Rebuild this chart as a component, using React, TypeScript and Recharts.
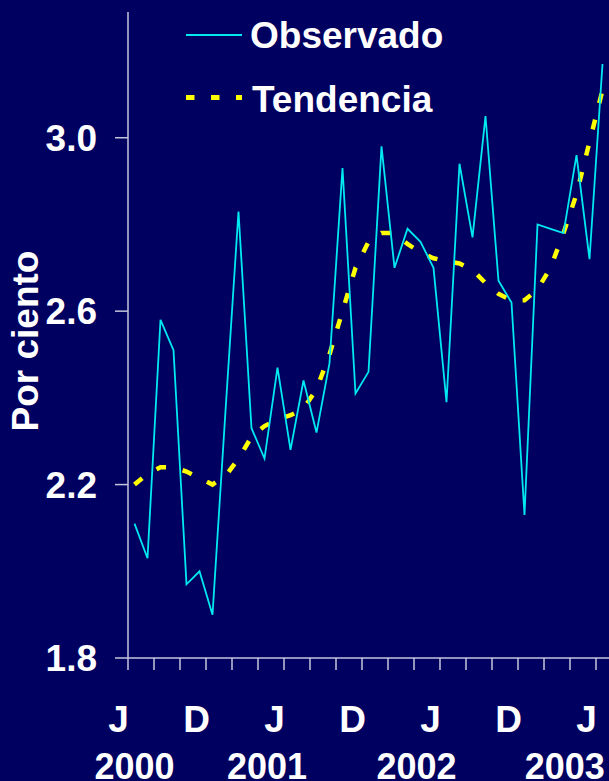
import { LineChart, Line, XAxis, YAxis, Legend } from 'recharts';

const FONT = '"Liberation Sans", Arial, sans-serif';
const BG = '#000060';
const AXIS = '#c4c4dc';
const CYAN = '#00e8f0';
const YELLOW = '#ffff00';

// junio 2000 .. junio 2003, mensual
const observado = [
  2.11, 2.03, 2.58, 2.51, 1.97, 2.0, 1.9, 2.37, 2.83, 2.33, 2.26, 2.47,
  2.28, 2.44, 2.32, 2.48, 2.93, 2.41, 2.46, 2.98, 2.7, 2.79, 2.76, 2.7,
  2.39, 2.94, 2.77, 3.05, 2.67, 2.62, 2.13, 2.8, 2.79, 2.78, 2.96, 2.72,
  3.17,
];
const tendencia = [
  2.2, 2.225, 2.24, 2.24, 2.23, 2.215, 2.2, 2.22, 2.26, 2.31, 2.335, 2.35,
  2.36, 2.375, 2.42, 2.5, 2.6, 2.7, 2.76, 2.78, 2.78, 2.755, 2.735, 2.722,
  2.715, 2.71, 2.695, 2.665, 2.64, 2.625, 2.625, 2.65, 2.7, 2.78, 2.87, 2.99,
  3.11,
];

const yTicks = [1.8, 2.2, 2.6, 3.0];
const xTicks = [0, 2, 4, 6, 8, 10, 12, 14, 16, 18, 20, 22, 24, 26, 28, 30, 32, 34, 36];
const mesLetras = ['J', 'D', 'J', 'D', 'J', 'D', 'J'];
const mesIdx = [0, 6, 12, 18, 24, 30, 36];
const anios = ['2000', '2001', '2002', '2003'];
const anioPos = [0.5, 10.7, 22.2, 33.6];

const data = observado.map((v, i) => ({ x: i + 0.5, observado: v, tendencia: tendencia[i] }));

const txt = { fill: '#fff', fontFamily: FONT, fontWeight: 'bold' as const, fontSize: 37 };

function NoTick() {
  return <g />;
}

function MesTick({ x, y, payload }: any) {
  const k = mesIdx.findIndex(m => m + 0.5 === payload.value);
  return (
    <text x={x - 16} y={y + 44} textAnchor="middle" {...txt}>
      {mesLetras[k]}
    </text>
  );
}

function AnioTick({ x, y, payload }: any) {
  const k = anioPos.indexOf(payload.value);
  return (
    <text x={x} y={y + 44.5} textAnchor="middle" {...txt} fontSize={36}>
      {anios[k]}
    </text>
  );
}

function YLabel({ viewBox }: any) {
  const cx = viewBox.x + 25;
  const cy = viewBox.y + viewBox.height / 2 + 6;
  return (
    <text x={cx} y={cy} transform={`rotate(-90 ${cx} ${cy})`} textAnchor="middle" dominantBaseline="central" {...txt}>
      Por ciento
    </text>
  );
}

function Leyenda() {
  return (
    <svg width={300} height={125}>
      <line x1={6} x2={62} y1={35} y2={35} stroke={CYAN} strokeWidth={2} />
      <text x={70} y={48} {...txt}>Observado</text>
      <line x1={6} x2={62} y1={97.5} y2={97.5} stroke={YELLOW} strokeWidth={5} strokeDasharray="8.5 16.5" />
      <text x={72} y={112} {...txt}>Tendencia</text>
    </svg>
  );
}

export default function App() {
  return (
    <div style={{ position: 'absolute', left: 0, top: 0, width: 609, height: 781, background: BG }}>
      <LineChart width={609} height={781} data={data} margin={{ top: 12, right: 0, bottom: 0, left: 0 }}>
        <XAxis
          xAxisId="c"
          type="number"
          dataKey="x"
          domain={[0, 37]}
          allowDataOverflow
          ticks={anioPos}
          tick={<AnioTick />}
          tickSize={0}
          tickMargin={0}
          axisLine={false}
          tickLine={false}
          height={47}
          interval={0}
        />
        <XAxis
          xAxisId="b"
          type="number"
          dataKey="x"
          domain={[0, 37]}
          allowDataOverflow
          ticks={mesIdx.map(m => m + 0.5)}
          tick={<MesTick />}
          tickSize={0}
          tickMargin={0}
          axisLine={false}
          tickLine={false}
          height={46}
          interval={0}
        />
        <XAxis
          xAxisId="a"
          type="number"
          dataKey="x"
          domain={[0, 37]}
          allowDataOverflow
          ticks={xTicks}
          tick={<NoTick />}
          tickSize={12}
          height={30}
          interval={0}
          axisLine={{ stroke: AXIS, strokeWidth: 1.5 }}
          tickLine={{ stroke: AXIS, strokeWidth: 1.5 }}
        />
        <YAxis
          type="number"
          domain={[1.8, 3.29]}
          allowDataOverflow
          ticks={yTicks}
          width={128}
          tickSize={13}
          tickMargin={18}
          tickFormatter={(v: number) => v.toFixed(1)}
          tick={txt}
          axisLine={{ stroke: AXIS, strokeWidth: 1.5 }}
          tickLine={{ stroke: AXIS, strokeWidth: 1.5 }}
          label={<YLabel />}
        />
        <Legend
          layout="vertical"
          align="center"
          verticalAlign="middle"
          wrapperStyle={{ left: 180, top: 0, width: 300, height: 125 }}
          content={() => <Leyenda />}
        />
        <Line
          xAxisId="a"
          type="linear"
          dataKey="tendencia"
          stroke={YELLOW}
          strokeWidth={4.5}
          strokeDasharray="10 17"
          dot={false}
          isAnimationActive={false}
        />
        <Line
          xAxisId="a"
          type="linear"
          dataKey="observado"
          stroke={CYAN}
          strokeWidth={1.8}
          dot={false}
          isAnimationActive={false}
        />
      </LineChart>
    </div>
  );
}
